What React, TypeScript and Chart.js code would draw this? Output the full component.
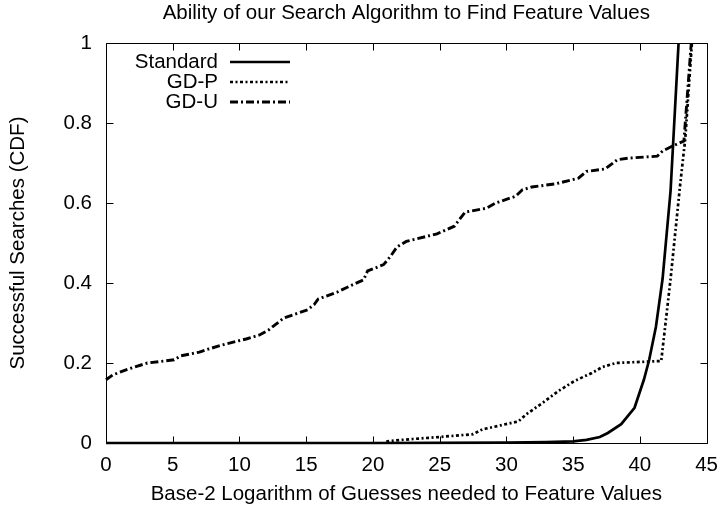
import React, { useEffect, useRef } from "react";
import { Chart, registerables } from "chart.js";

Chart.register(...registerables);

const chartTitle = "Ability of our Search Algorithm to Find Feature Values";
const xAxisTitle = "Base-2 Logarithm of Guesses needed to Feature Values";
const yAxisTitle = "Successful Searches (CDF)";
const seriesNames = ["Standard", "GD-P", "GD-U"];

const xTickValues = [0, 5, 10, 15, 20, 25, 30, 35, 40, 45];
const yTickValues = [0, 0.2, 0.4, 0.6, 0.8, 1];
const yTickLabels = ["0", "0.2", "0.4", "0.6", "0.8", "1"];

const standardX = [0, 10, 20, 30, 33, 35, 36, 37, 37.6, 38.6, 39.6, 40.3, 40.7, 41.2, 41.7, 42.3, 42.9];
const standardY = [0, 0, 0, 0.001, 0.002, 0.004, 0.008, 0.015, 0.025, 0.047, 0.088, 0.158, 0.208, 0.29, 0.41, 0.63, 1.0];

const gdpX = [21, 21.2, 23, 25, 27.5, 28.2, 30.9, 31.5, 32.7, 33.9, 35.1, 36.4, 37.2, 38.2, 41.6, 42.3, 43.0, 43.4, 43.9];
const gdpY = [0.003, 0.005, 0.01, 0.015, 0.022, 0.034, 0.054, 0.072, 0.1, 0.13, 0.155, 0.175, 0.19, 0.2, 0.205, 0.41, 0.64, 0.76, 1.0];

const gduX = [0, 0.5, 1.5, 3.1, 5.1, 5.6, 7.0, 7.7, 8.9, 10.5, 11.5, 12.2, 13.3, 15.1, 15.6, 15.9, 17.3, 18.5, 19.3, 19.6, 20.8, 21.3, 21.8, 22.5, 24.8, 26.1, 26.9, 28.5, 29.2, 30.7, 31.2, 31.9, 33.7, 35.4, 36.0, 37.4, 38.3, 39.1, 41.3, 41.7, 42.3, 43.3, 43.85];
const gduY = [0.158, 0.17, 0.183, 0.2, 0.208, 0.218, 0.227, 0.235, 0.247, 0.26, 0.27, 0.283, 0.312, 0.333, 0.346, 0.36, 0.377, 0.396, 0.408, 0.43, 0.446, 0.466, 0.49, 0.504, 0.523, 0.542, 0.577, 0.587, 0.6, 0.617, 0.633, 0.64, 0.648, 0.662, 0.679, 0.685, 0.708, 0.712, 0.717, 0.73, 0.74, 0.755, 1.0];

const FONT = "'Liberation Sans', Arial, Helvetica, sans-serif";
const FS = 20.5;

const zip = (xs: number[], ys: number[]) => xs.map((x, i) => ({ x, y: ys[i] }));

const framePlugin = {
  id: "gnuplotFrame",
  afterDraw(chart: any) {
    const ctx = chart.ctx;
    const { left, right, top, bottom } = chart.chartArea;
    const xs = chart.scales.x;
    const ys = chart.scales.y;
    ctx.save();
    ctx.strokeStyle = "#000";
    ctx.lineWidth = 1;
    ctx.beginPath();
    const L = Math.round(left) + 0.5, R = Math.round(right) + 0.5, T = Math.round(top) + 0.5, B = Math.round(bottom) + 0.5;
    ctx.rect(L, T, R - L, B - T);
    const tl = 7;
    xTickValues.forEach((v) => {
      const px = Math.round(xs.getPixelForValue(v)) + 0.5;
      ctx.moveTo(px, B); ctx.lineTo(px, B - tl);
      ctx.moveTo(px, T); ctx.lineTo(px, T + tl);
    });
    yTickValues.forEach((v) => {
      const py = Math.round(ys.getPixelForValue(v)) + 0.5;
      ctx.moveTo(L, py); ctx.lineTo(L + tl, py);
      ctx.moveTo(R, py); ctx.lineTo(R - tl, py);
    });
    ctx.stroke();

    // title
    ctx.fillStyle = "#000";
    ctx.font = `${FS}px ${FONT}`;
    ctx.textAlign = "center";
    ctx.textBaseline = "middle";
    ctx.fillText(chartTitle, (left + right) / 2, 13);

    // legend
    const rows = [62, 82, 102];
    chart.data.datasets.forEach((ds: any, i: number) => {
      const y = rows[i];
      ctx.textAlign = "right";
      ctx.fillText(ds.label, 218, y);
      ctx.save();
      ctx.strokeStyle = ds.borderColor;
      ctx.lineWidth = ds.borderWidth;
      ctx.setLineDash(ds.borderDash || []);
      ctx.beginPath();
      ctx.moveTo(230, y);
      ctx.lineTo(290, y);
      ctx.stroke();
      ctx.restore();
    });
    ctx.restore();
  },
};

export default function App() {
  const ref = useRef<HTMLCanvasElement | null>(null);
  useEffect(() => {
    if (!ref.current) return;
    const chart = new Chart(ref.current, {
      type: "scatter",
      data: {
        datasets: [
          {
            label: seriesNames[0],
            data: zip(standardX, standardY),
            showLine: true,
            borderColor: "#000",
            backgroundColor: "#000",
            borderWidth: 2.7,
            pointRadius: 0,
            tension: 0,
            clip: 6,
          } as any,
          {
            label: seriesNames[1],
            data: zip(gdpX, gdpY),
            showLine: true,
            borderColor: "#000",
            backgroundColor: "#000",
            borderWidth: 2.7,
            borderDash: [3, 2.5, 2, 2.5],
            pointRadius: 0,
            tension: 0,
            clip: 6,
          } as any,
          {
            label: seriesNames[2],
            data: zip(gduX, gduY),
            showLine: true,
            borderColor: "#000",
            backgroundColor: "#000",
            borderWidth: 2.9,
            borderDash: [8, 3, 2, 3],
            pointRadius: 0,
            tension: 0,
            clip: 6,
          } as any,
        ],
      },
      options: {
        animation: false,
        responsive: false,
        devicePixelRatio: 1,
        layout: { padding: { top: 43, right: 15, bottom: 0, left: 0 } },
        plugins: {
          legend: { display: false },
          title: { display: false },
          tooltip: { enabled: false },
        },
        scales: {
          x: {
            type: "linear",
            min: 0,
            max: 45,
            afterBuildTicks: (s: any) => {
              s.ticks = xTickValues.map((v) => ({ value: v }));
            },
            afterFit: (s: any) => {
              s.height = 66;
            },
            grid: { display: false, drawTicks: false },
            border: { display: false },
            ticks: {
              color: "#000",
              font: { family: FONT, size: FS },
              padding: 10,
              maxRotation: 0,
              autoSkip: false,
              callback: (v: any) => String(v),
            },
            title: {
              display: true,
              text: xAxisTitle,
              color: "#000",
              font: { family: FONT, size: FS },
              padding: { top: 0, bottom: 2 },
            },
          },
          y: {
            type: "linear",
            min: 0,
            max: 1,
            afterBuildTicks: (s: any) => {
              s.ticks = yTickValues.map((v) => ({ value: v }));
            },
            afterFit: (s: any) => {
              s.width = 106;
            },
            grid: { display: false, drawTicks: false },
            border: { display: false },
            ticks: {
              color: "#000",
              font: { family: FONT, size: FS },
              padding: 14,
              autoSkip: false,
              callback: (v: any) => {
                const i = yTickValues.findIndex((t) => Math.abs(t - v) < 1e-6);
                return i >= 0 ? yTickLabels[i] : "";
              },
            },
            title: {
              display: true,
              text: yAxisTitle,
              color: "#000",
              font: { family: FONT, size: FS },
              padding: { top: 6, bottom: 0 },
            },
          },
        },
      },
      plugins: [framePlugin],
    });
    return () => chart.destroy();
  }, []);
  return (
    <canvas
      ref={ref}
      width={728}
      height={509}
      style={{ position: "absolute", left: 0, top: 0, display: "block" }}
    />
  );
}
